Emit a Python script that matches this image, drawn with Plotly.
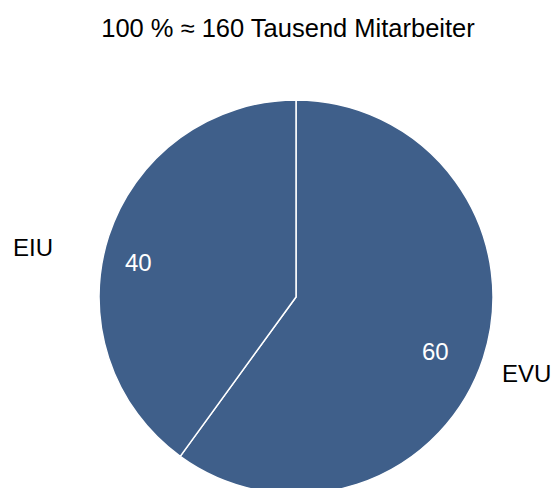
import plotly.graph_objects as go

# Anteile der Mitarbeiter (%)
labels = ["EVU", "EIU"]
values = [60, 40]
title_text = "100 % ≈ 160 Tausend Mitarbeiter"

pie_color = "#3F5F8A"
font_family = "Liberation Sans, Arial"
fsize = 24

fig = go.Figure(
    go.Pie(
        labels=labels,
        values=values,
        sort=False,
        direction="clockwise",
        rotation=0,
        marker=dict(colors=[pie_color] * len(values), line=dict(color="white", width=1.5)),
        textinfo="none",
        hoverinfo="label+value",
        domain=dict(x=[0.1625, 0.8661], y=[0, 0.8107]),
        showlegend=False,
    )
)

# Werte innerhalb und Kategorienamen ausserhalb der Segmente
value_pos = {"EVU": (0.764, 0.294), "EIU": (0.233, 0.476)}
label_pos = {"EVU": (0.925, 0.247), "EIU": (0.0455, 0.508)}
for lab, val in zip(labels, values):
    vx, vy = value_pos[lab]
    fig.add_annotation(
        x=vx, y=vy, xref="paper", yref="paper", text=str(val), showarrow=False,
        xanchor="center", yanchor="middle",
        font=dict(family=font_family, size=fsize, color="white"),
    )
    lx, ly = label_pos[lab]
    fig.add_annotation(
        x=lx, y=ly, xref="paper", yref="paper", text=lab, showarrow=False,
        xanchor="center", yanchor="middle",
        font=dict(family=font_family, size=fsize, color="black"),
    )

fig.update_layout(
    width=560,
    height=486,
    margin=dict(l=0, r=0, t=0, b=0),
    paper_bgcolor="white",
    plot_bgcolor="white",
    title=dict(
        text=title_text,
        x=0.5,
        xanchor="center",
        y=0.959,
        yanchor="middle",
        font=dict(family=font_family, size=25.5, color="black"),
    ),
)

fig.write_html("out.html")
